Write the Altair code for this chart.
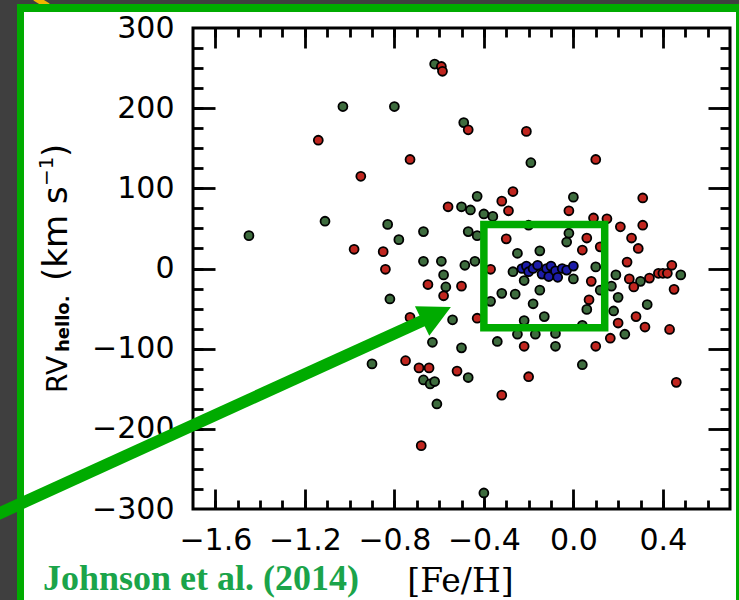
import altair as alt
import pandas as pd

# ---------------- data ----------------
red_feh = [-1.14, -0.95, -0.98, -0.85, -0.84, -0.59, -0.585, -0.47, -0.21, -0.73, 0.10, -0.27, 0.31, -0.56, -0.32,
           -0.29, -0.02, 0.09, 0.15, 0.21, 0.31, -0.30, 0.06, 0.26, 0.04, 0.12, 0.29, -0.37, 0.24, 0.08,
           0.25, 0.27, 0.34, 0.38, 0.40, 0.42, 0.44, 0.45, -0.65, -0.50, -0.58, 0.07, -0.73, -0.43, -0.22,
           -0.75, -0.69, -0.645, -0.52, -0.32, -0.20, 0.46, -0.68, 0.10, 0.20, 0.165, 0.28, 0.32, 0.43]
red_rv = [160, 115, 24, 21, -1, 252, 246, 173, 171, 136, 136, 96, 88, 77, 84,
          72, 72, 63, 62, 52, 54, 37, 38, 38, 23, 27, 25, -1, 8, -16,
          -13, -23, -12, -6, -6, -6, 4, -26, -20, -22, -34, -39, -61, -62, -97,
          -115, -124, -124, -128, -158, -135, -142, -221, -97, -68, -87, -60, -73, -76]

green_feh = [-1.03, -0.80, -1.11, -1.45, -0.83, -0.78, -0.82, -0.90, -0.62, -0.49, -0.19, -0.43, 0.00, -0.50, -0.46,
             -0.40, -0.36, -0.67, -0.47, -0.43, -0.20, -0.02, -0.03, -0.25, -0.15, -0.67, -0.59, -0.58, -0.485, -0.44,
             -0.27, -0.22, 0.10, 0.19, 0.00, 0.30, 0.48, -0.57, -0.32, -0.26, -0.15, 0.12, 0.17, 0.20, -0.18,
             -0.37, -0.22, -0.13, -0.54, -0.63, -0.50, -0.34, -0.25, -0.17, -0.08, -0.08, 0.04, 0.06, 0.04, 0.18,
             0.23, 0.33, -0.67, -0.64, -0.62, -0.61, -0.47, -0.40]
green_rv = [202, 202, 59, 41, 55, 36, -38, -119, 255, 182, 132, 90, 89, 77, 73,
            68, 65, 46, 46, 41, 54, 44, 33, 19, 22, 9, 9, -8, 4, 9,
            -4, -15, 2, -8, -13, -16, -8, -23, -31, -32, -27, -27, -22, -36, -44,
            -41, -65, -60, -64, -92, -99, -91, -82, -82, -81, -97, -120, -51, -71, -53,
            -82, -45, -139, -144, -141, -169, -136, -280]

blue_feh = [-0.23, -0.21, -0.20, -0.18, -0.16, -0.14, -0.12, -0.11, -0.10, -0.08, -0.07, -0.05, -0.03, 0.00]
blue_rv = [0, 3, -4, 0, 4, -7, 0, -10, 3, -3, -11, 0, -2, 3]

groups = ["green", "red", "blue"]
group_colors = ["#3e6c3e", "#c0261f", "#1c1ca8"]

x_domain = [-1.7, 0.7]
y_domain = [-300, 300]
x_major = [-1.6, -1.2, -0.8, -0.4, 0.0, 0.4]
x_minor = [-1.6, -1.5, -1.4, -1.3, -1.2, -1.1, -1.0, -0.9, -0.8, -0.7, -0.6, -0.5, -0.4, -0.3, -0.2, -0.1,
           0.0, 0.1, 0.2, 0.3, 0.4, 0.5, 0.6]
y_labels = [-300, -200, -100, 0, 100, 200, 300]
y_major = [-200, -100, 0, 100, 200]
y_minor = [-275, -250, -225, -200, -175, -150, -125, -100, -75, -50, -25, 0, 25, 50, 75, 100, 125, 150,
           175, 200, 225, 250, 275]

box_feh = [-0.40, 0.14]
box_rv = [-74, 55]

# ---------------- tables ----------------
df = pd.DataFrame({
    "feh": green_feh + red_feh + blue_feh,
    "rv": green_rv + red_rv + blue_rv,
    "group": ["green"] * len(green_feh) + ["red"] * len(red_feh) + ["blue"] * len(blue_feh),
})
box_df = pd.DataFrame({"x1": [box_feh[0]], "x2": [box_feh[1]], "y1": [box_rv[1]], "y2": [box_rv[0]]})
one = pd.DataFrame({"k": [0]})

GREEN = "#00ab00"
W, H = 537, 481
PL, PT = 193, 28

xs = alt.Scale(domain=x_domain, nice=False, zero=False)
ys = alt.Scale(domain=y_domain, nice=False, zero=False)


def tick_axis(orient, values, size):
    return alt.Axis(orient=orient, values=values, labels=False, domain=False, grid=False, ticks=True,
                    tickSize=size, tickWidth=2.8, tickColor="black", offset=-size, title=None)


def rect(x1, x2, y1, y2, color):
    return alt.Chart(one).mark_rect(color=color).encode(
        x=alt.value(x1 - PL), x2=alt.value(x2 - PL), y=alt.value(y1 - PT), y2=alt.value(y2 - PT))


def txt(s, x, y, size, font="DejaVu Sans", weight="normal", angle=0, color="black"):
    mk = dict(text=s, font=font, fontSize=size, fontWeight=weight, color=color,
              align="left", baseline="alphabetic")
    if angle:
        mk["angle"] = angle
    return alt.Chart(one).mark_text(**mk).encode(x=alt.value(x - PL), y=alt.value(y - PT))


# slide decoration
bg_layers = [
    rect(0, 17, 0, 600, "#3f3f3f"),
    rect(0, 739, 0, 4, "#3f3f3f"),
    alt.Chart(one).mark_rule(color="#f2b400", strokeWidth=6).encode(
        x=alt.value(35 - PL), y=alt.value(-2 - PT), x2=alt.value(48 - PL), y2=alt.value(6 - PT)),
    rect(17, 24, 4, 600, GREEN),
    rect(17, 739, 4, 12, GREEN),
    rect(736, 739, 4, 600, GREEN),
]

x_label_axis = alt.Axis(
    orient="bottom", values=x_major, ticks=False, domain=False, grid=False,
    labelExpr="replace(format(datum.value, '.1f'), '-', '\u2212')",
    labelFont="DejaVu Sans", labelFontSize=30, labelColor="black", labelPadding=40,
    labelBaseline="alphabetic", labelFlush=False, labelOverlap=False,
    title="[Fe/H]", titleFont="DejaVu Serif", titleFontSize=33, titleFontWeight="normal", titleColor="black",
    titleX=267, titleY=82, titleAlign="center", titleBaseline="alphabetic", titleAngle=0,
)
y_label_axis = alt.Axis(
    orient="left", values=y_labels, ticks=False, domain=False, grid=False,
    labelExpr="replace(format(datum.value, 'd'), '-', '\u2212')",
    labelFont="DejaVu Sans", labelFontSize=30, labelColor="black", labelPadding=19,
    labelAlign="right", labelBaseline="middle", labelFlush=False, labelOverlap=False,
    title=None,
)

points = alt.Chart(df).mark_circle(size=80, stroke="black", strokeWidth=1.8, opacity=1).encode(
    x=alt.X("feh:Q", scale=xs, axis=x_label_axis),
    y=alt.Y("rv:Q", scale=ys, axis=y_label_axis),
    fill=alt.Fill("group:N", scale=alt.Scale(domain=groups, range=group_colors), legend=None),
)

tick_layers = [
    alt.Chart(df).mark_point(opacity=0).encode(
        x=alt.X("feh:Q", scale=xs, axis=tick_axis("bottom", x_major, 20)),
        y=alt.Y("rv:Q", scale=ys, axis=tick_axis("left", y_major, 22))),
    alt.Chart(df).mark_point(opacity=0).encode(
        x=alt.X("feh:Q", scale=xs, axis=tick_axis("bottom", x_minor, 9)),
        y=alt.Y("rv:Q", scale=ys, axis=tick_axis("left", y_minor, 10))),
    alt.Chart(df).mark_point(opacity=0).encode(
        x=alt.X("feh:Q", scale=xs, axis=tick_axis("top", x_major, 20)),
        y=alt.Y("rv:Q", scale=ys, axis=tick_axis("right", y_major, 22))),
    alt.Chart(df).mark_point(opacity=0).encode(
        x=alt.X("feh:Q", scale=xs, axis=tick_axis("top", x_minor, 9)),
        y=alt.Y("rv:Q", scale=ys, axis=tick_axis("right", y_minor, 10))),
]

box = alt.Chart(box_df).mark_rect(fillOpacity=0, stroke=GREEN, strokeWidth=7.5).encode(
    x=alt.X("x1:Q", scale=xs, axis=None), x2="x2:Q",
    y=alt.Y("y1:Q", scale=ys, axis=None), y2="y2:Q",
)

arrow_line = alt.Chart(one).mark_rule(color=GREEN, strokeWidth=12, strokeCap="butt").encode(
    x=alt.value(-12 - PL), y=alt.value(518.5 - PT), x2=alt.value(425 - PL), y2=alt.value(319.6 - PT))
arrow_head = alt.Chart(one).mark_point(
    shape="M1,0L-1,-1.03L-1,1.03Z", filled=True, color=GREEN, opacity=1, size=1024, angle=334.2,
    strokeWidth=0).encode(x=alt.value(436.5 - PL), y=alt.value(314 - PT))

ytitle = [
    txt("RV", 67, 393, 28, angle=270),
    txt("hello.", 69, 352, 18, weight="bold", angle=270),
    txt("(km s", 67, 281, 34, angle=270),
    txt("\u22121", 53, 186, 20, angle=270),
    txt(")", 67, 157, 34, angle=270),
]

credit = txt("Johnson et al. (2014)", 43, 590, 36, font="Liberation Serif", weight="bold", color="#1ba44a")

chart = alt.layer(
    *bg_layers, *tick_layers, points, box, arrow_line, arrow_head, *ytitle, credit
).resolve_axis(
    x="independent", y="independent"
).properties(
    width=W, height=H,
    padding={"left": PL, "top": PT, "right": 739 - PL - W, "bottom": 600 - PT - H},
    autosize=alt.AutoSizeParams(type="none"),
    background="white",
).configure_view(stroke="black", strokeWidth=3)

chart.save("out.html", embed_options={"renderer": "svg", "actions": False})
